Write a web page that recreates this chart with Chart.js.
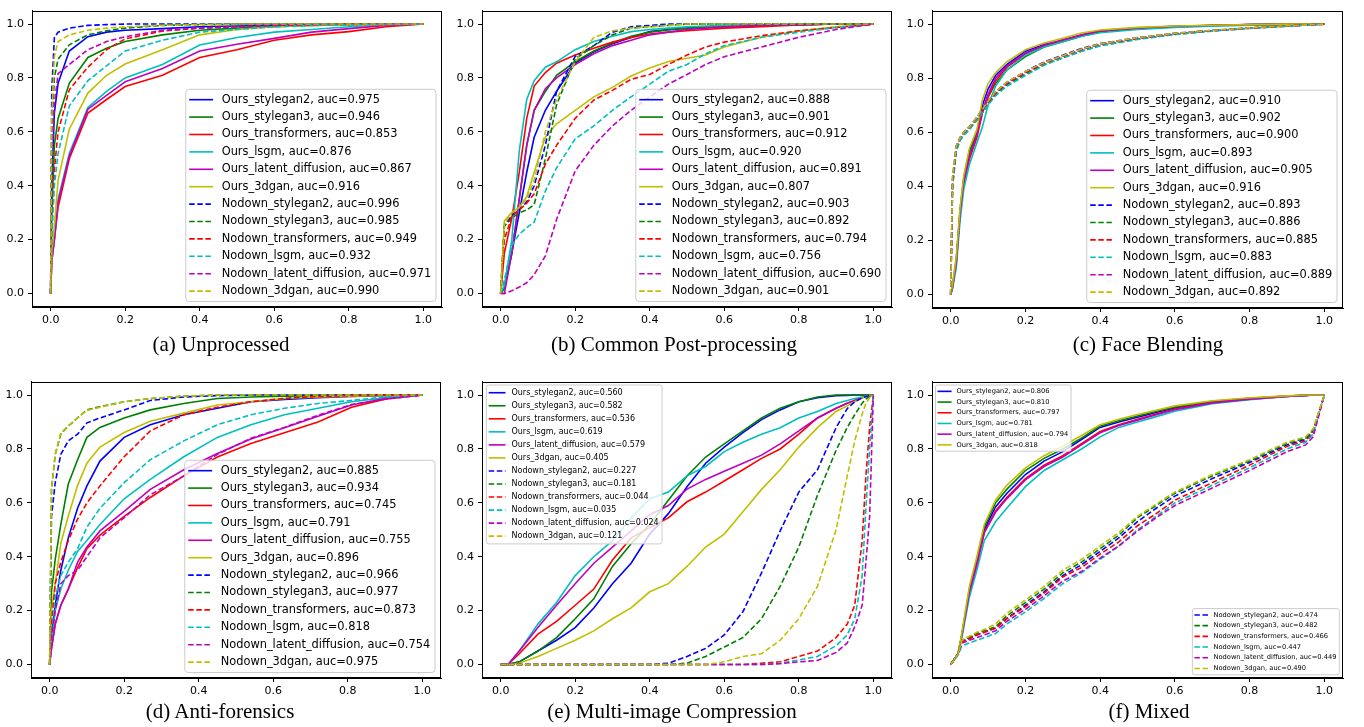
<!DOCTYPE html>
<html>
<head>
<meta charset="utf-8">
<script src="https://cdn.jsdelivr.net/npm/chart.js@4.4.0/dist/chart.umd.min.js"></script>
<style>
  body { margin: 0; background: #fff; width: 1364px; height: 727px; position: relative; overflow: hidden; }
  canvas { position: absolute; }
  .cap { position: absolute; font-family: "Liberation Serif", "Times New Roman", serif; font-size: 21px;
         color: #000; white-space: nowrap; transform: translate(-50%, -50%); line-height: 1.1; }
</style>
</head>
<body>
<script>
// ---- data ----
const seriesNames = ['Ours_stylegan2', 'Ours_stylegan3', 'Ours_transformers', 'Ours_lsgm', 'Ours_latent_diffusion', 'Ours_3dgan',
  'Nodown_stylegan2', 'Nodown_stylegan3', 'Nodown_transformers', 'Nodown_lsgm', 'Nodown_latent_diffusion', 'Nodown_3dgan'];
const tickValues = [0, 0.2, 0.4, 0.6, 0.8, 1.0];
const captions = ['(a) Unprocessed', '(b) Common Post-processing', '(c) Face Blending',
  '(d) Anti-forensics', '(e) Multi-image Compression', '(f) Mixed'];

// (a) Unprocessed
const aucA = ['0.975', '0.946', '0.853', '0.876', '0.867', '0.916', '0.996', '0.985', '0.949', '0.932', '0.971', '0.990'];
const fprA = [0, 0.003, 0.01, 0.02, 0.05, 0.1, 0.15, 0.2, 0.3, 0.4, 0.5, 0.6, 0.7, 0.8, 0.9, 1.0];
const tprA = [
  [0, .4, .67, .78, .9, .953, .97, .977, .983, .99, .993, .995, .997, .998, .999, 1],
  [0, .3, .55, .65, .78, .876, .91, .935, .96, .977, .985, .99, .995, .998, .999, 1],
  [0, .12, .2, .32, .5, .67, .72, .768, .81, .876, .905, .94, .96, .972, .99, 1],
  [0, .12, .2, .35, .52, .69, .75, .8, .85, .922, .95, .97, .98, .99, .998, 1],
  [0, .12, .2, .34, .51, .684, .735, .786, .835, .9, .925, .947, .97, .983, .995, 1],
  [0, .15, .25, .42, .61, .744, .81, .852, .905, .96, .98, .99, .995, .997, .999, 1],
  [0, .75, .95, .97, .985, .995, .998, 1, 1, 1, 1, 1, 1, 1, 1, 1],
  [0, .6, .8, .87, .923, .96, .975, .985, .995, .998, 1, 1, 1, 1, 1, 1],
  [0, .25, .46, .6, .756, .84, .905, .945, .974, .985, .99, .995, .998, 1, 1, 1],
  [0, .2, .4, .52, .696, .79, .845, .9, .94, .97, .98, .99, .995, .997, .999, 1],
  [0, .5, .7, .816, .85, .905, .935, .953, .977, .985, .99, .995, .998, 1, 1, 1],
  [0, .65, .88, .935, .96, .977, .985, .99, .995, .998, 1, 1, 1, 1, 1, 1]
];

// (b) Common Post-processing
const aucB = ['0.888', '0.901', '0.912', '0.920', '0.891', '0.807', '0.903', '0.892', '0.794', '0.756', '0.690', '0.901'];
const fprB = [0, .01, .03, .05, .07, .09, .12, .15, .2, .25, .3, .35, .4, .45, .5, .55, .6, .7, .8, .9, 1];
const tprB = [
  [0, .02, .15, .3, .45, .58, .68, .75, .855, .897, .927, .95, .972, .98, .985, .988, .99, .995, .998, 1, 1],
  [0, .02, .15, .35, .55, .68, .75, .81, .86, .9, .93, .955, .97, .978, .985, .988, .99, .995, .998, 1, 1],
  [0, .15, .28, .45, .65, .77, .82, .855, .885, .91, .933, .95, .963, .97, .975, .98, .985, .99, .997, 1, 1],
  [0, .03, .2, .53, .72, .79, .84, .86, .905, .935, .955, .972, .98, .985, .99, .993, .995, .997, 1, 1, 1],
  [0, 0, .15, .35, .55, .68, .76, .8, .85, .89, .92, .94, .96, .97, .98, .985, .99, .995, .997, 1, 1],
  [0, .27, .3, .32, .36, .45, .58, .63, .68, .73, .765, .807, .837, .861, .873, .885, .915, .951, .975, .99, 1],
  [0, .25, .29, .31, .34, .4, .55, .75, .88, .92, .97, .99, .995, 1, 1, 1, 1, 1, 1, 1, 1],
  [0, .25, .28, .3, .31, .33, .5, .7, .87, .92, .96, .985, .99, .995, 1, 1, 1, 1, 1, 1, 1],
  [0, .2, .287, .31, .335, .37, .48, .55, .65, .718, .754, .795, .813, .85, .885, .915, .933, .957, .975, .987, 1],
  [0, .05, .18, .22, .245, .265, .38, .466, .574, .622, .68, .73, .777, .825, .85, .89, .92, .951, .97, .987, 1],
  [0, 0, .01, .024, .04, .07, .14, .275, .455, .55, .622, .68, .73, .777, .813, .85, .879, .915, .951, .98, 1],
  [0, .26, .3, .32, .35, .42, .6, .72, .86, .95, .975, .985, .99, .995, 1, 1, 1, 1, 1, 1, 1]
];

// (c) Face Blending
const aucC = ['0.910', '0.902', '0.900', '0.893', '0.905', '0.916', '0.893', '0.886', '0.885', '0.883', '0.889', '0.892'];
const fprC = [0, .005, .015, .025, .035, .05, .07, .085, .1, .12, .15, .2, .25, .3, .35, .4, .5, .6, .7, .8, .9, 1];
const tprC = [
  [0, .03, .13, .31, .43, .53, .6, .7, .76, .81, .85, .9, .925, .94, .96, .975, .985, .992, .995, .998, 1, 1],
  [0, .03, .12, .3, .42, .52, .6, .68, .73, .78, .83, .88, .915, .935, .955, .972, .985, .99, .995, .998, 1, 1],
  [0, .03, .12, .3, .41, .5, .58, .67, .73, .79, .84, .89, .92, .94, .96, .975, .985, .99, .995, .997, .999, 1],
  [0, .02, .1, .27, .39, .48, .56, .62, .7, .77, .83, .885, .915, .935, .955, .968, .98, .988, .992, .996, .999, 1],
  [0, .03, .12, .3, .42, .51, .59, .68, .74, .8, .845, .893, .922, .942, .96, .975, .986, .992, .996, .998, 1, 1],
  [0, .04, .14, .32, .44, .54, .61, .72, .78, .82, .86, .905, .93, .948, .967, .978, .988, .993, .996, .998, 1, 1],
  [0, .43, .55, .58, .6, .62, .655, .685, .715, .75, .785, .825, .86, .885, .91, .928, .95, .966, .977, .986, .994, 1],
  [0, .4, .53, .57, .59, .61, .645, .675, .705, .74, .775, .815, .85, .875, .9, .92, .945, .962, .975, .985, .993, 1],
  [0, .41, .54, .575, .595, .615, .65, .68, .71, .745, .78, .82, .855, .88, .905, .925, .947, .964, .976, .985, .993, 1],
  [0, .4, .53, .57, .59, .61, .645, .672, .7, .735, .77, .81, .848, .875, .9, .92, .943, .962, .974, .984, .992, 1],
  [0, .42, .545, .58, .6, .62, .652, .682, .712, .747, .782, .822, .857, .882, .906, .926, .948, .965, .976, .985, .993, 1],
  [0, .44, .55, .58, .6, .62, .655, .685, .715, .75, .785, .825, .858, .883, .908, .927, .95, .966, .977, .986, .994, 1]
];

// (d) Anti-forensics
const aucD = ['0.885', '0.934', '0.745', '0.791', '0.755', '0.896', '0.966', '0.977', '0.873', '0.818', '0.754', '0.975'];
const fprD = [0, .005, .015, .03, .05, .075, .1, .135, .2, .27, .36, .45, .54, .63, .72, .81, .9, 1];
const tprD = [
  [0, .12, .22, .35, .47, .58, .663, .755, .843, .89, .927, .951, .975, .984, .99, .995, .998, 1],
  [0, .27, .39, .52, .67, .76, .843, .88, .915, .945, .969, .987, .993, .996, .998, .999, 1, 1],
  [0, .06, .15, .22, .28, .36, .43, .48, .55, .62, .7, .77, .82, .86, .9, .955, .985, 1],
  [0, .08, .2, .28, .35, .42, .46, .52, .615, .687, .771, .843, .89, .927, .951, .975, .99, 1],
  [0, .06, .15, .22, .28, .38, .436, .496, .568, .65, .723, .783, .837, .879, .921, .963, .987, 1],
  [0, .2, .3, .45, .55, .665, .747, .807, .861, .903, .933, .963, .975, .987, .993, .996, .999, 1],
  [0, .55, .675, .78, .83, .855, .897, .915, .945, .98, .993, .998, 1, 1, 1, 1, 1, 1],
  [0, .65, .78, .855, .885, .915, .945, .957, .975, .987, .996, 1, 1, 1, 1, 1, 1, 1],
  [0, .15, .3, .38, .46, .54, .6, .663, .771, .867, .927, .955, .975, .988, .995, .998, 1, 1],
  [0, .1, .25, .33, .38, .43, .51, .58, .675, .76, .83, .89, .927, .951, .969, .98, .993, 1],
  [0, .1, .2, .3, .33, .35, .4, .47, .545, .63, .7, .78, .84, .88, .925, .965, .985, 1],
  [0, .65, .78, .86, .885, .915, .943, .955, .975, .987, .996, 1, 1, 1, 1, 1, 1, 1]
];

// (e) Multi-image Compression
const aucE = ['0.560', '0.582', '0.536', '0.619', '0.579', '0.405', '0.227', '0.181', '0.044', '0.035', '0.024', '0.121'];
const fprE = [0, .02, .05, .1, .15, .2, .25, .3, .35, .4, .45, .5, .55, .6, .65, .7, .75, .8, .85, .9, .93, .95, .97, .98, .99, 1];
const tprE = [
  [0, 0, .01, .05, .09, .137, .21, .3, .376, .484, .56, .66, .747, .807, .861, .909, .945, .975, .99, .998, .999, 1, 1, 1, 1, 1],
  [0, 0, .01, .05, .1, .17, .244, .364, .448, .52, .61, .7, .77, .819, .867, .915, .951, .975, .993, 1, 1, 1, 1, 1, 1, 1],
  [0, 0, .04, .113, .16, .22, .28, .388, .47, .508, .544, .604, .64, .681, .723, .765, .8, .855, .915, .951, .97, .98, .99, .995, .998, 1],
  [0, 0, .05, .15, .23, .33, .4, .46, .544, .615, .64, .7, .735, .79, .825, .855, .879, .915, .939, .969, .98, .987, .993, .996, .998, 1],
  [0, 0, .05, .137, .22, .3, .376, .436, .496, .556, .59, .651, .687, .717, .747, .777, .819, .867, .915, .951, .97, .98, .99, .995, .998, 1],
  [0, 0, .005, .03, .06, .09, .125, .17, .21, .27, .3, .364, .436, .484, .567, .65, .723, .807, .879, .939, .96, .975, .99, .995, .998, 1],
  [0, 0, 0, 0, 0, 0, 0, 0, 0, 0, .005, .03, .06, .11, .196, .34, .496, .64, .723, .879, .95, .975, .99, .995, .998, 1],
  [0, 0, 0, 0, 0, 0, 0, 0, 0, 0, 0, .005, .03, .065, .1, .17, .29, .436, .628, .795, .88, .927, .97, .985, .995, 1],
  [0, 0, 0, 0, 0, 0, 0, 0, 0, 0, 0, 0, 0, 0, 0, .005, .01, .03, .05, .1, .15, .22, .46, .7, .88, 1],
  [0, 0, 0, 0, 0, 0, 0, 0, 0, 0, 0, 0, 0, 0, 0, 0, .005, .017, .03, .07, .11, .17, .33, .58, .8, 1],
  [0, 0, 0, 0, 0, 0, 0, 0, 0, 0, 0, 0, 0, 0, 0, 0, .003, .01, .015, .045, .08, .14, .22, .38, .55, 1],
  [0, 0, 0, 0, 0, 0, 0, 0, 0, 0, 0, 0, 0, .01, .03, .04, .09, .17, .29, .5, .7, .83, .93, .97, .99, 1]
];

// (f) Mixed
const aucF = ['0.806', '0.810', '0.797', '0.781', '0.794', '0.818', '0.474', '0.482', '0.466', '0.447', '0.449', '0.490'];
const fprF = [0, .02, .03, .05, .07, .09, .12, .15, .2, .25, .3, .35, .4, .45, .5, .55, .6, .7, .8, .9, .95, .97, 1];
const tprF = [
  [0, .04, .11, .27, .38, .5, .585, .635, .705, .755, .79, .835, .88, .9, .918, .935, .952, .974, .987, .996, .999, 1, 1],
  [0, .04, .11, .28, .39, .51, .6, .65, .72, .765, .8, .84, .885, .905, .922, .94, .956, .977, .988, .996, .999, 1, 1],
  [0, .04, .11, .27, .375, .49, .57, .62, .69, .74, .775, .82, .865, .89, .91, .93, .948, .972, .985, .995, .999, 1, 1],
  [0, .04, .1, .25, .35, .46, .53, .58, .66, .72, .76, .8, .845, .88, .9, .92, .94, .968, .983, .995, .999, 1, 1],
  [0, .04, .11, .27, .37, .49, .565, .615, .685, .735, .77, .815, .86, .887, .907, .927, .946, .971, .985, .995, .999, 1, 1],
  [0, .04, .12, .29, .4, .52, .61, .665, .73, .775, .81, .85, .89, .91, .928, .944, .96, .979, .99, .997, 1, 1, 1],
  [0, .04, .085, .1, .11, .12, .135, .17, .22, .27, .33, .37, .42, .47, .53, .58, .625, .69, .75, .815, .835, .865, 1],
  [0, .04, .09, .1, .115, .125, .14, .18, .23, .28, .34, .38, .43, .48, .545, .59, .635, .7, .755, .82, .84, .87, 1],
  [0, .04, .085, .095, .11, .12, .135, .17, .215, .265, .325, .36, .41, .455, .515, .56, .61, .675, .74, .81, .83, .86, 1],
  [0, .035, .07, .08, .09, .1, .115, .15, .195, .245, .3, .34, .39, .44, .5, .55, .6, .665, .73, .8, .825, .855, 1],
  [0, .04, .08, .09, .1, .11, .125, .16, .205, .255, .31, .345, .395, .44, .495, .545, .59, .655, .72, .79, .815, .845, 1],
  [0, .04, .09, .105, .12, .13, .15, .19, .24, .29, .35, .39, .44, .49, .55, .595, .64, .705, .76, .825, .845, .875, 1]
];

// ---- style / layout ----
const lineColors = ['#0000ff', '#008000', '#ff0000', '#00bfbf', '#bf00bf', '#bfbf00'];
const ALL = [0, 1, 2, 3, 4, 5, 6, 7, 8, 9, 10, 11];
const bigLegend = { items: ALL, corner: 'lr', font: 11.4, rowH: 17.4, inset: [6, 5.5] };
const panels = [
  { fpr: fprA, tpr: tprA, auc: aucA, frame: [32, 2, 442, 307], cap: [221, 345], legends: [bigLegend] },
  { fpr: fprB, tpr: tprB, auc: aucB, frame: [482, 2, 892, 307], cap: [674, 345], legends: [bigLegend] },
  { fpr: fprC, tpr: tprC, auc: aucC, frame: [932, 2, 1343, 308], cap: [1148, 345], legends: [bigLegend] },
  { fpr: fprD, tpr: tprD, auc: aucD, frame: [31, 373, 441, 678], cap: [220, 712], legends: [bigLegend] },
  { fpr: fprE, tpr: tprE, auc: aucE, frame: [482, 373, 892, 678], cap: [672, 712],
    legends: [{ items: ALL, corner: 'ul', font: 8, rowH: 13.04, inset: [4.3, 3.4] }] },
  { fpr: fprF, tpr: tprF, auc: aucF, frame: [932, 373, 1343, 678], cap: [1149, 712],
    legends: [{ items: [0, 1, 2, 3, 4, 5], corner: 'ul', font: 6.7, rowH: 10.7, inset: [3.5, 3.4] },
              { items: [6, 7, 8, 9, 10, 11], corner: 'lr', font: 6.7, rowH: 10.7, inset: [3.7, 3.2] }] }
];

Chart.defaults.font.family = 'DejaVu Sans';

function drawLegend(chart, spec) {
  const ctx = chart.ctx, ca = chart.chartArea, ds = chart.data.datasets;
  const f = spec.font;
  ctx.save();
  ctx.font = f + 'px "DejaVu Sans"';
  let tw = 0;
  spec.items.forEach(i => { tw = Math.max(tw, ctx.measureText(ds[i].label).width); });
  const padL = 0.3 * f, hl = 2.1 * f, gap = 0.75 * f, padR = 0.42 * f;
  const w = padL + hl + gap + tw + padR;
  const h = spec.items.length * spec.rowH + 0.3 * f;
  const x = spec.corner[1] === 'l' ? ca.left + spec.inset[0] : ca.right - spec.inset[0] - w;
  const y = spec.corner[0] === 'u' ? ca.top + spec.inset[1] : ca.bottom - spec.inset[1] - h;
  ctx.beginPath();
  if (ctx.roundRect) ctx.roundRect(x, y, w, h, 0.3 * f); else ctx.rect(x, y, w, h);
  ctx.fillStyle = 'rgba(255,255,255,0.8)';
  ctx.fill();
  ctx.strokeStyle = '#cccccc';
  ctx.lineWidth = 1;
  ctx.stroke();
  spec.items.forEach((i, k) => {
    const cy = y + 0.15 * f + spec.rowH * (k + 0.5);
    ctx.beginPath();
    ctx.setLineDash(ds[i].borderDash || []);
    ctx.strokeStyle = ds[i].borderColor;
    ctx.lineWidth = ds[i].borderWidth;
    ctx.moveTo(x + padL, cy);
    ctx.lineTo(x + padL + hl, cy);
    ctx.stroke();
    ctx.setLineDash([]);
    ctx.fillStyle = '#000';
    ctx.textBaseline = 'middle';
    ctx.textAlign = 'left';
    ctx.fillText(ds[i].label, x + padL + hl + gap, cy);
  });
  ctx.restore();
}

const framePlugin = {
  id: 'frameAndLegend',
  afterDatasetsDraw(chart) {
    const ca = chart.chartArea, ctx = chart.ctx;
    ctx.save();
    ctx.strokeStyle = '#000';
    ctx.lineWidth = 1;
    ctx.strokeRect(Math.round(ca.left) + 0.5, Math.round(ca.top) + 0.5,
      Math.round(ca.right - ca.left) - 1, Math.round(ca.bottom - ca.top) - 1);
    ctx.restore();
    chart.$legends.forEach(spec => drawLegend(chart, spec));
  }
};

function axisOpts(isX) {
  return {
    type: 'linear',
    min: -0.05,
    max: 1.05,
    afterBuildTicks: s => { s.ticks = tickValues.map(v => ({ value: v })); },
    afterFit: s => { if (isX) s.height = 32; else s.width = 44; },
    ticks: {
      callback: v => v.toFixed(1),
      color: '#000',
      font: { size: 11 },
      padding: isX ? 3 : 4,
      maxRotation: 0,
      autoSkip: false
    },
    grid: { display: true, drawOnChartArea: false, drawTicks: true, tickLength: 4, color: '#000', lineWidth: 1 },
    border: { display: true, color: '#000', width: 1 }
  };
}

panels.forEach((p, n) => {
  const [fl, ft, fr, fb] = p.frame;
  const cv = document.createElement('canvas');
  const W = (fr - fl) + 44 + 8, H = (fb - ft) + 2 + 32;
  cv.width = W; cv.height = H;
  cv.style.left = (fl - 44) + 'px';
  cv.style.top = (ft - 2) + 'px';
  cv.style.width = W + 'px';
  cv.style.height = H + 'px';
  document.body.appendChild(cv);

  const datasets = p.tpr.map((row, i) => ({
    label: seriesNames[i] + ', auc=' + p.auc[i],
    data: row.map((v, k) => ({ x: p.fpr[k], y: v })),
    borderColor: lineColors[i % 6],
    borderWidth: 1.6,
    borderDash: i < 6 ? [] : [5.5, 2.6],
    pointRadius: 0,
    tension: 0,
    fill: false,
    order: 12 - i
  }));

  const chart = new Chart(cv, {
    type: 'line',
    data: { datasets },
    options: {
      responsive: false,
      animation: false,
      events: [],
      layout: { padding: { left: 0, top: 2, right: 8, bottom: 0 } },
      scales: { x: axisOpts(true), y: axisOpts(false) },
      plugins: { legend: { display: false }, tooltip: { enabled: false } }
    },
    plugins: [{ id: 'specs', beforeInit(c) { c.$legends = p.legends; } }, framePlugin]
  });

  const cap = document.createElement('div');
  cap.className = 'cap';
  cap.textContent = captions[n];
  cap.style.left = p.cap[0] + 'px';
  cap.style.top = p.cap[1] + 'px';
  document.body.appendChild(cap);
});
</script>
</body>
</html>
